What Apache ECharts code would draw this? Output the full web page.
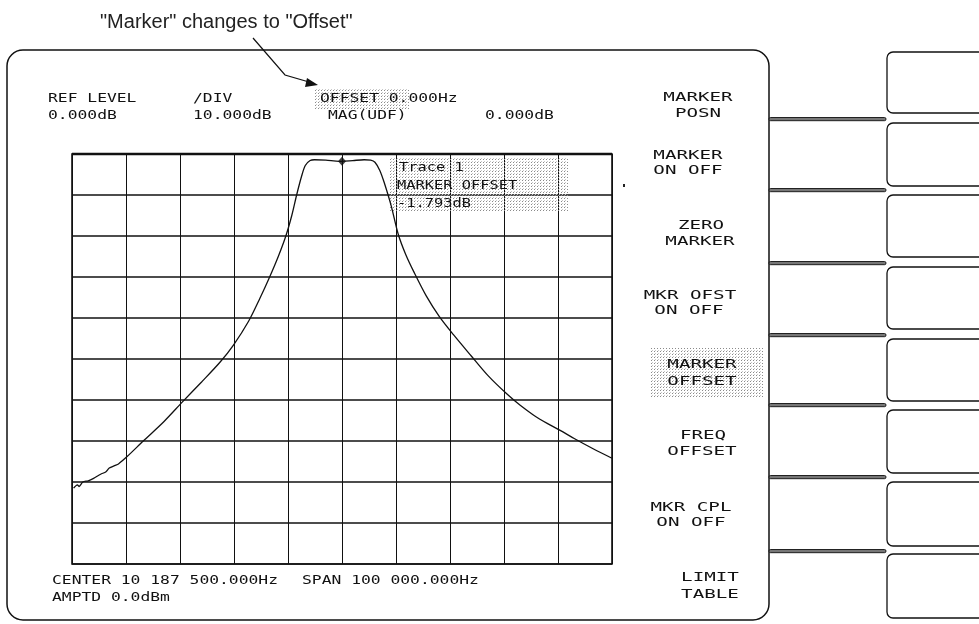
<!DOCTYPE html>
<html><head><meta charset="utf-8">
<script src="https://cdn.jsdelivr.net/npm/echarts@6/dist/echarts.min.js"></script>
<style>html,body{margin:0;padding:0;background:#fff}#c{width:979px;height:624px}</style>
</head><body><div id="c"></div>
<script>
// Frequency offset from center (kHz); center 10 187 500 Hz, span 100 kHz
const freqOffsetKHz = [-49.7,-49.0,-48.7,-48.0,-47.0,-46.0,-44.7,-43.7,-43.1,-42.1,-41.4,-39.8,-36.8,-33.0,-29.5,-26.0,-22.6,-20.1,-17.3,-15.2,-13.4,-11.8,-10.4,-9.3,-8.4,-7.5,-6.8,-5.9,-5.1,-3.0,-0.5,0,2.0,4.1,5.3,6.1,7.0,7.8,9.1,10.4,11.8,13.4,15.6,18.0,20.6,23.9,27.0,30.5,33.0,35.5,38.0,40.4,43.0,46.5,50.0];
// Trace level (dB)
const levelDB = [-81.5,-80.7,-81.1,-80.0,-79.7,-79.1,-78.1,-77.5,-76.6,-76.0,-75.6,-73.8,-70.0,-65.3,-60.4,-55.6,-50.8,-46.6,-40.8,-35.2,-30.0,-25.0,-20.0,-15.0,-10.0,-5.5,-2.8,-1.6,-1.4,-1.5,-1.8,-1.79,-1.6,-1.4,-1.5,-2.0,-4.0,-6.9,-12.6,-19.5,-24.5,-29.0,-34.6,-39.6,-44.0,-49.2,-54.0,-58.5,-61.3,-63.7,-65.7,-67.4,-69.4,-71.9,-74.2];
const markerFreqKHz = [0];
const markerLevelDB = [-1.793];
const xTicks = {min:-50, max:50, interval:10};
const yTicks = {min:-100, max:0, interval:10};

const pc = document.createElement('canvas'); pc.width = 3; pc.height = 3;
const g2 = pc.getContext('2d'); g2.fillStyle = '#8a8a8a'; g2.fillRect(0,0,1,1); g2.fillStyle='#c8c8c8'; g2.fillRect(1,2,1,1);
const dots = {image: pc, repeat: 'repeat'};

const MONO = '12px "DejaVu Sans Mono"';
function T(text, x, y, sx, align) {
  return {type:'text', x:x, y:y, scaleX: sx || 1.36, z: 20,
    style:{text:text, font:MONO, fill:'#111', align: align||'left', verticalAlign:'middle', textAlign: align||'left', textVerticalAlign:'middle'}};
}
const els = [];
// outer frame
els.push({type:'rect', shape:{x:7, y:50, width:762, height:570, r:16}, style:{fill:'none', stroke:'#111', lineWidth:1.5}, z:1});
// dotted highlights
els.push({type:'rect', shape:{x:315, y:88, width:94, height:22}, style:{fill:dots}, z:2});
els.push({type:'rect', shape:{x:390, y:157, width:178, height:55}, style:{fill:dots}, z:2});
els.push({type:'rect', shape:{x:650, y:348, width:113, height:49}, style:{fill:dots}, z:2});
// annotation arrow
els.push({type:'polyline', shape:{points:[[253,38],[285,75],[309,82]]}, style:{stroke:'#111', lineWidth:1.2, fill:'none'}, z:5});
els.push({type:'polygon', shape:{points:[[318,85],[307,78],[305,87]]}, style:{fill:'#111'}, z:5});
// header
els.push(T('REF LEVEL', 48, 99));
els.push(T('0.000dB', 48, 116));
els.push(T('/DIV', 193, 99));
els.push(T('10.000dB', 193, 116));
els.push(T('OFFSET 0.000Hz', 320, 99));
els.push(T('MAG(UDF)', 328, 116));
els.push(T('0.000dB', 485, 116));
// trace box
els.push(T('Trace 1', 399, 168, 1.28));
els.push(T('MARKER OFFSET', 397, 186, 1.28));
els.push(T('-1.793dB', 397, 204, 1.28));
// footer
els.push(T('CENTER 10 187 500.000Hz', 52, 581));
els.push(T('SPAN 100 000.000Hz', 302, 581));
els.push(T('AMPTD 0.0dBm', 52, 598));
// softkeys
const sk = [['MARKER',698,98],['POSN',698,114],['MARKER',688,156],['ON OFF',688,171],['ZERO',701,226],['MARKER',700,242],
  ['MKR OFST',690,296],['ON OFF',689,311],['MARKER',702,365],['OFFSET',702,382],['FREQ',703,436],['OFFSET',702,452],
  ['MKR CPL',691,508],['ON OFF',691,523],['LIMIT',710,578],['TABLE',710,595]];
sk.forEach(function(s){ els.push(T(s[0], s[1], s[2], 1.6, 'center')); });
// separators
[119,190,263,335,405,477,551].forEach(function(y){
  els.push({type:'rect', shape:{x:769, y:y-1.5, width:117, height:3.2, r:1.5}, style:{fill:'#777', stroke:'#111', lineWidth:0.9}, z:3});
});
// right boxes
[[52,113],[123,186],[195,257],[267,329],[339,401],[410,473],[482,546],[554,618]].forEach(function(b){
  els.push({type:'rect', shape:{x:887, y:b[0], width:140, height:b[1]-b[0], r:6}, style:{fill:'none', stroke:'#111', lineWidth:1.3}, z:3});
});
// heavier top border of the graticule
els.push({type:'line', shape:{x1:72, y1:154, x2:612, y2:154}, style:{stroke:'#111', lineWidth:2.6}, z:3});
// stray mark
els.push({type:'rect', shape:{x:623, y:184, width:2, height:3}, style:{fill:'#222'}, z:3});

const chart = echarts.init(document.getElementById('c'), null, {renderer:'canvas'});
chart.setOption({
  backgroundColor:'#fff',
  animation:false,
  title:{text:'"Marker" changes to "Offset"', left:95, top:7,
    textStyle:{fontFamily:'"Liberation Sans", Arial, sans-serif', fontSize:20, fontWeight:'normal', color:'#222'}},
  grid:{left:72, top:154, width:540, height:410, show:true, borderColor:'#111', borderWidth:1.6, backgroundColor:'transparent'},
  xAxis:{type:'value', min:xTicks.min, max:xTicks.max, interval:xTicks.interval,
    axisLine:{show:false}, axisTick:{show:false}, axisLabel:{show:false},
    splitLine:{show:true, lineStyle:{color:'#111', width:1}}},
  yAxis:{type:'value', min:yTicks.min, max:yTicks.max, interval:yTicks.interval,
    axisLine:{show:false}, axisTick:{show:false}, axisLabel:{show:false},
    splitLine:{show:true, lineStyle:{color:'#111', width:1.7}}},
  series:[
    {type:'line', data: freqOffsetKHz.map(function(f,i){return [f, levelDB[i]];}),
      showSymbol:false, smooth:0.3, lineStyle:{color:'#111', width:1.3}, z:4},
    {type:'scatter', data: markerFreqKHz.map(function(f,i){return [f, markerLevelDB[i]];}),
      symbol:'diamond', symbolSize:[8,9], itemStyle:{color:'#111'}, z:6}
  ],
  graphic:{elements: els}
});
</script></body></html>
